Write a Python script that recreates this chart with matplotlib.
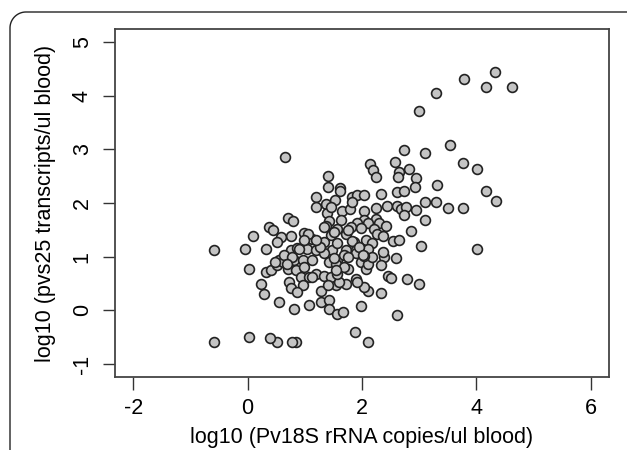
import matplotlib
matplotlib.use("Agg")
import matplotlib.pyplot as plt
import numpy as np
from matplotlib.lines import Line2D

# log10 Pv18S rRNA copies/ul blood
x_vals = [
    4.33, 3.79, 4.17, 4.62, 3.29, 3.00, 3.54, 2.74, 3.10, 0.65,
    3.76, 4.02, 2.58, 2.83, 2.14, 2.19, 2.24, 2.65, 2.63, 2.95,
    1.40, 2.92, 3.31, 4.17, 4.34, 3.10, 3.29, 3.51, 3.76, 3.10,
    2.85, 3.03, 4.02, 2.78, 3.00, 2.62, 2.10, 1.87, 1.98, 0.85,
    0.78, 0.52, 0.39, 0.02, -0.58, -0.58, -0.05, 0.02, 0.09, 0.23,
    0.29, 0.32, 0.32, 0.37, 0.44, 0.55, 0.81, 1.07, 1.28, 1.42,
    1.42, 1.57, 1.66, 2.34, 2.45, 2.50, 2.59, 2.55, 2.64, 2.38,
    2.33, 2.10, 2.04, 1.89, 1.92, 1.72, 1.54, 1.41, 1.61, 1.62,
    1.19, 1.19, 1.37, 1.38, 1.52, 1.65, 1.79, 1.82, 1.92, 1.63,
    1.42, 0.71, 0.80, 1.37, 2.62, 2.74, 2.34, 2.04, 1.83, 2.43,
    2.62, 2.68, 2.77, 2.94, 1.45, 2.04, 2.24, 2.73, 2.04, 2.24,
    1.92, 2.10, 2.30, 2.42, 1.80, 1.98, 1.57, 2.21, 1.72, 2.27,
    2.36, 1.45, 1.34, 1.51, 0.99, 0.75, 0.58, 0.52, 1.13, 1.34,
    0.75, 0.87, 1.03, 1.19, 1.48, 1.57, 1.86, 2.07, 2.18, 1.72,
    1.89, 2.10, 2.36, 0.40, 0.52, 0.55, 0.61, 0.64, 0.81, 0.96,
    1.13, 1.34, 1.42, 1.57, 0.70, 0.84, 0.93, 1.07, 1.19, 1.34,
    1.45, 0.72, 0.75, 0.96, 0.87, 1.28, 1.40, 1.60, 1.57, 1.75,
    1.98, 2.07, 2.10, 2.18, 2.04, 1.89, 1.69, 1.54, 1.51, 1.76,
    1.83, 1.94, 2.01, 1.76, 1.69, 1.55, 1.27, 1.20, 1.06, 0.99,
    0.89, 0.78, 0.68, 0.47, 0.99, 1.13,
]

# log10 pvs25 transcripts/ul blood
y_vals = [
    4.44, 4.31, 4.16, 4.16, 4.05, 3.71, 3.08, 2.98, 2.93, 2.85,
    2.75, 2.64, 2.77, 2.64, 2.73, 2.62, 2.49, 2.57, 2.48, 2.46,
    2.50, 2.29, 2.33, 2.22, 2.04, 2.01, 2.01, 1.91, 1.91, 1.68,
    1.47, 1.20, 1.15, 0.58, 0.49, -0.09, -0.59, -0.40, 0.09, -0.59,
    -0.59, -0.59, -0.52, -0.49, -0.59, 1.13, 1.15, 0.78, 1.39, 0.50,
    0.31, 1.15, 0.72, 1.55, 1.50, 0.16, 0.03, 0.11, 0.16, 0.19,
    0.03, -0.06, -0.03, 0.32, 0.64, 0.60, 0.97, 1.29, 1.32, 1.00,
    0.84, 0.37, 0.44, 0.59, 0.53, 0.50, 0.47, 2.30, 2.28, 2.22,
    2.12, 1.92, 1.98, 1.81, 2.05, 1.86, 1.88, 2.11, 2.14, 1.68,
    1.66, 1.73, 1.67, 1.57, 2.21, 2.22, 2.17, 2.15, 2.02, 1.95,
    1.94, 1.88, 1.93, 1.87, 1.93, 1.86, 1.90, 1.78, 1.68, 1.71,
    1.63, 1.62, 1.62, 1.58, 1.55, 1.53, 1.51, 1.51, 1.42, 1.43,
    1.38, 1.40, 1.56, 1.46, 1.45, 1.39, 1.37, 1.28, 1.33, 1.28,
    1.12, 1.17, 1.15, 1.12, 1.12, 1.25, 1.28, 1.31, 1.25, 1.12,
    1.12, 1.15, 1.09, 0.75, 0.84, 0.93, 0.90, 1.03, 0.93, 0.93,
    0.93, 1.06, 0.90, 0.93, 0.78, 0.75, 0.62, 0.62, 0.68, 0.65,
    0.62, 0.53, 0.41, 0.47, 0.34, 0.37, 0.47, 0.53, 0.68, 0.78,
    0.90, 0.78, 0.87, 1.00, 1.01, 1.06, 1.03, 0.87, 0.97, 1.49,
    1.30, 1.18, 1.03, 1.00, 0.81, 0.75, 1.18, 1.31, 1.43, 1.31,
    1.15, 1.00, 0.87, 0.90, 0.80, 0.62,
]

x_ticks = [-2, 0, 2, 4, 6]
y_ticks = [-1, 0, 1, 2, 3, 4, 5]
x_label = "log10 (Pv18S rRNA copies/ul blood)"
y_label = "log10 (pvs25 transcripts/ul blood)"

plt.rcParams['font.family'] = ['Liberation Sans', 'DejaVu Sans']

W, H = 627, 450
fig = plt.figure(figsize=(W / 100, H / 100), dpi=100)

# outer frame with rounded top-left corner (pixel coords -> figure fraction)
r = 16
left, top = 10, 12
theta = np.linspace(np.pi, np.pi / 2, 30)
arc_x = left + r + r * np.cos(theta)
arc_y = top + r - r * np.sin(theta)
px = np.concatenate([[left], arc_x, [W + 5]])
py = np.concatenate([[H + 5], arc_y, [top]])
fig.add_artist(Line2D(px / W, 1 - py / H, transform=fig.transFigure,
                      color='#222222', linewidth=1.0))

ax = fig.add_axes([115 / W, 1 - 377 / H, (609 - 115) / W, (377 - 29) / H])
ax.scatter(x_vals, y_vals, s=50, facecolor='#c4c4c4', edgecolor='#222222',
           linewidths=1.2, zorder=3)

ax.set_xlim(-2.32, 6.32)
ax.set_ylim(-1.24, 5.24)
ax.set_xticks(x_ticks)
ax.set_yticks(y_ticks)
ax.set_xticklabels([str(t) for t in x_ticks], fontsize=15.5)
ax.set_yticklabels([str(t) for t in y_ticks], fontsize=15.5, rotation=90, va='center')
ax.tick_params(axis='both', direction='out', length=9, width=1.0, color='#333333')
ax.tick_params(axis='x', pad=6)
ax.tick_params(axis='y', pad=7)
for sp in ax.spines.values():
    sp.set_linewidth(1.3)
    sp.set_color('#444444')

ax.set_xlabel(x_label, fontsize=15.5, labelpad=6)
ax.set_ylabel(y_label, fontsize=15.5, labelpad=11)

fig.savefig("out.png", dpi=100)
